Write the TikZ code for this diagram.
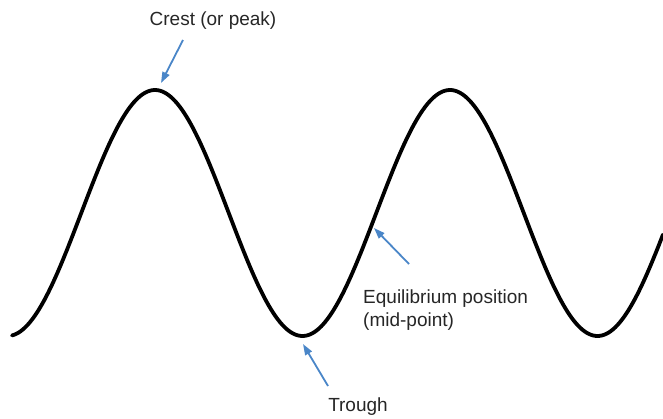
\documentclass[tikz,border=0pt]{standalone}
\usepackage{fontspec}
\setmainfont{Liberation Sans}
\usetikzlibrary{arrows.meta}
\definecolor{arrowblue}{HTML}{4A86C8}
\tikzset{
  wave/.style={line width=3.8pt, black, line cap=round},
  pointer/.style={arrowblue, line width=1.8pt, -{Triangle[length=11pt,width=7.5pt]}},
  lbl/.style={font=\fontsize{19}{23}\selectfont, inner sep=0pt, text=black!85}
}
\begin{document}
\begin{tikzpicture}[x=1pt,y=-1pt]
\useasboundingbox (0,0) rectangle (663,418);
\draw[wave] plot[domain=12:663, samples=300, smooth] (\x, {213 - 123*cos(1.220339*(\x-155))});
% labels
\node[lbl] (crest) at (213,21) {Crest (or peak)};
\node[lbl, anchor=north west, align=left] (equil) at (363,290) {Equilibrium position\\(mid-point)};
\node[lbl] (trough) at (358,407) {Trough};
% arrow ends
\coordinate (crestTail) at (183,40);
\coordinate (crestTip) at (161,83);
\coordinate (eqTail) at (409,264);
\coordinate (eqTip) at (374,228);
\coordinate (trTail) at (328,386);
\coordinate (trTip) at (303,344);
\draw[pointer] (crestTail) -- (crestTip);
\draw[pointer] (eqTail) -- (eqTip);
\draw[pointer] (trTail) -- (trTip);
\end{tikzpicture}
\end{document}
